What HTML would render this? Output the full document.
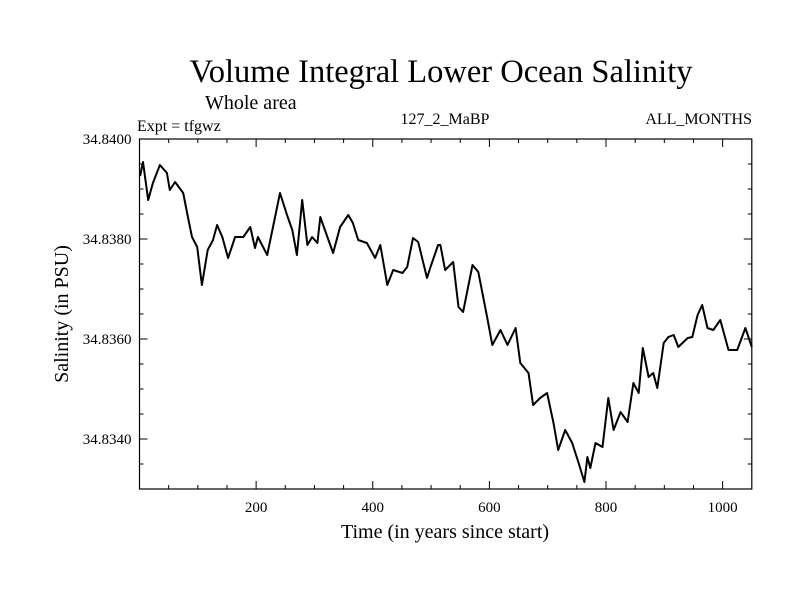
<!DOCTYPE html>
<html><head><meta charset="utf-8"><style>
body{margin:0;background:#fff}
svg{display:block}
text{font-family:"Liberation Serif",serif;fill:#000}
</style></head><body>
<svg id="chart" width="800" height="600" viewBox="0 0 800 600">
<text x="441" y="82" font-size="32.5" text-anchor="middle">Volume Integral Lower Ocean Salinity</text>
<text x="205" y="109" font-size="20">Whole area</text>
<text x="137" y="131" font-size="16">Expt = tfgwz</text>
<text x="445" y="124" font-size="16" text-anchor="middle">127_2_MaBP</text>
<text x="752" y="124" font-size="16" text-anchor="end">ALL_MONTHS</text>
<text transform="translate(68,314) rotate(-90)" font-size="20" text-anchor="middle">Salinity (in PSU)</text>
<text x="445" y="538" font-size="20" text-anchor="middle">Time (in years since start)</text>
<g id="axes"></g>
<g id="series"></g>
<rect x="139.5" y="139" width="612.3" height="350" fill="none" stroke="#000" stroke-width="1.2"/>
</svg>
<script>
const years=[1,6,15,23,35,47,52,61,75,83,90,99,107,117,126,133,142,152,164,178,190,198,203,219,229,241,253,262,270,279,288,296,305,310,318,332,344,358,366,375,390,404,413,425,435,451,459,469,478,493,499,512,516,524,538,547,555,571,581,596,605,619,631,645,653,667,675,687,699,710,718,730,742,753,763,768,773,782,794,804,813,825,837,847,856,863,873,881,888,899,907,916,924,940,948,957,965,974,984,996,1010,1025,1039,1050];
const salinity=[34.83926,34.83954,34.83878,34.83912,34.83948,34.83932,34.83898,34.83914,34.83892,34.83844,34.83804,34.83784,34.83708,34.83778,34.83798,34.83828,34.83804,34.83762,34.83804,34.83804,34.83824,34.83782,34.83804,34.83768,34.83824,34.83892,34.83848,34.83818,34.83768,34.83878,34.83788,34.83804,34.83792,34.83844,34.83818,34.83772,34.83824,34.83848,34.83832,34.83798,34.83792,34.83762,34.83788,34.83708,34.83738,34.83732,34.83744,34.83802,34.83794,34.83722,34.83744,34.83788,34.83788,34.83738,34.83754,34.83664,34.83654,34.83748,34.83734,34.83644,34.83588,34.83618,34.83588,34.83622,34.83552,34.83532,34.83468,34.83482,34.83492,34.83432,34.83378,34.83418,34.83392,34.83352,34.83314,34.83364,34.83342,34.83392,34.83384,34.83482,34.83418,34.83454,34.83434,34.83512,34.83492,34.83582,34.83524,34.83532,34.83502,34.83592,34.83604,34.83608,34.83584,34.83602,34.83604,34.83648,34.83668,34.83622,34.83618,34.83638,34.83578,34.83578,34.83622,34.83584];
const xTickLabels=[200,400,600,800,1000];
const yTickLabels=["34.8340","34.8360","34.8380","34.8400"];

const X0=139.5,X1=751.8,Y0=139,Y1=489,xMin=0,xMax=1050,yMin=34.833,yMax=34.840;
const sx=v=>X0+(v-xMin)/(xMax-xMin)*(X1-X0);
const sy=v=>Y1-(v-yMin)/(yMax-yMin)*(Y1-Y0);
const NS="http://www.w3.org/2000/svg";
const axes=document.getElementById('axes');
function line(x1,y1,x2,y2,name){const l=document.createElementNS(NS,'line');
l.setAttribute('x1',x1);l.setAttribute('y1',y1);l.setAttribute('x2',x2);l.setAttribute('y2',y2);
l.setAttribute('stroke','#000');l.setAttribute('stroke-width','1');


axes.appendChild(l);}
for(let yr=50;yr<xMax;yr+=50){const x=sx(yr);const L=yr%200===0?8:4;
line(x,Y1,x,Y1-L,'x-tick');line(x,Y0,x,Y0+L,'x-tick-top');}
for(let k=1;k<14;k++){const v=yMin+k*0.0005;const y=sy(v);const L=(k%4===2)?8:4;
line(X0,y,X0+L,y,'y-tick');line(X1,y,X1-L,y,'y-tick-right');}
xTickLabels.forEach(v=>{const t=document.createElementNS(NS,'text');
t.setAttribute('x',sx(v));t.setAttribute('y',Y1+23);t.setAttribute('font-size','15');t.setAttribute('text-anchor','middle');
t.textContent=v;


axes.appendChild(t);});
yTickLabels.forEach(s=>{const t=document.createElementNS(NS,'text');
t.setAttribute('x',X0-8);t.setAttribute('y',sy(parseFloat(s))+5);t.setAttribute('font-size','15');t.setAttribute('text-anchor','end');
t.textContent=s;


axes.appendChild(t);});
const p=document.createElementNS(NS,'polyline');
p.setAttribute('points',years.map((y,i)=>sx(y).toFixed(1)+','+sy(salinity[i]).toFixed(1)).join(' '));
p.setAttribute('fill','none');p.setAttribute('stroke','#000');p.setAttribute('stroke-width','2');p.setAttribute('stroke-linejoin','round');


document.getElementById('series').appendChild(p);
</script>
</body></html>
